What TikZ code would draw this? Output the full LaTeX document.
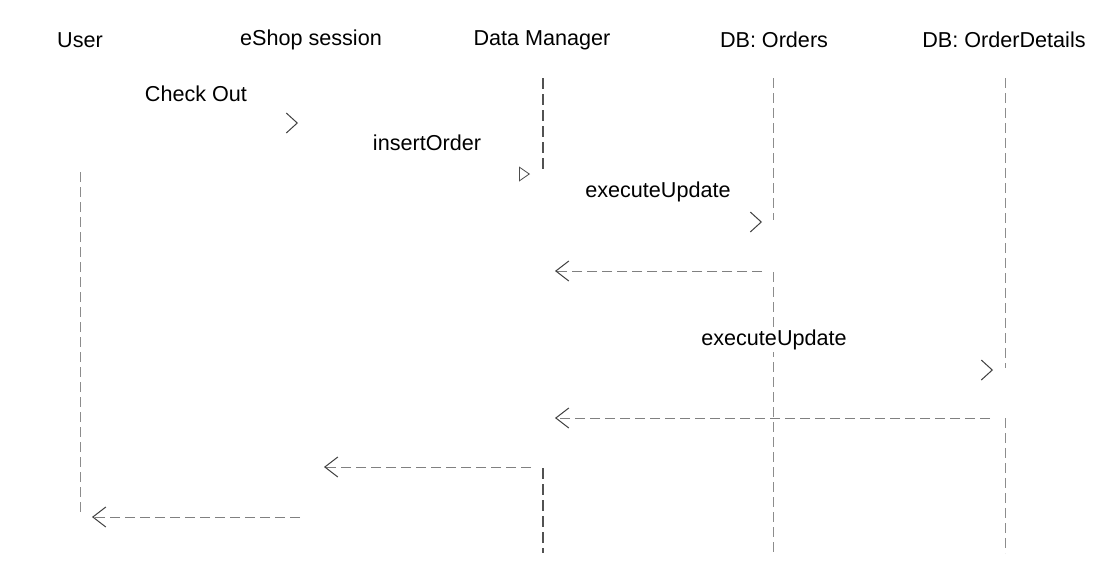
\documentclass[tikz,border=0pt]{standalone}
\usepackage{fontspec}
\setmainfont{Liberation Sans}
\usetikzlibrary{arrows.meta}
\begin{document}
\begin{tikzpicture}[x=1pt,y=-1pt,
  head/.style={font=\fontsize{21.6}{24}\selectfont, text=black, inner sep=0pt},
  lbl/.style={font=\fontsize{21.6}{24}\selectfont, text=black, inner sep=2pt},
  life/.style={draw=black!45, line width=0.8pt, dash pattern=on 10pt off 5pt},
  lifeact/.style={draw=black!68, line width=1.8pt, dash pattern=on 11pt off 5pt},
  callmsg/.style={draw=white, line width=0.8pt, -{Straight Barb[length=11pt,width=20pt,line width=1pt,color=black!75]}},
  callopen/.style={draw=white, line width=0.8pt, -{Triangle[open,length=11pt,width=15pt,line width=0.8pt,color=black!70]}},
  retmsg/.style={draw=black!50, line width=0.8pt, dash pattern=on 10pt off 5pt, -{Straight Barb[length=13pt,width=20pt,line width=1pt,color=black!75]}}
]
\useasboundingbox (0,0) rectangle (1110,566);
\fill[white] (0,0) rectangle (1110,566);

% headers
\node[head] (hUser) at (80,40) {User};
\node[head] (hShop) at (311,40) {eShop session};
\node[head] (hDM) at (542,40) {Data Manager};
\node[head] (hOrd) at (774,40) {DB: Orders};
\node[head] (hOD) at (1004,40) {DB: OrderDetails};

% lifeline points
\coordinate (uA) at (80,172);  \coordinate (uB) at (80,515);
\coordinate (dA) at (543,78);  \coordinate (dB) at (543,170);
\coordinate (dC) at (543,468); \coordinate (dD) at (543,553);
\coordinate (oA) at (773,78);  \coordinate (oB) at (773,220);
\coordinate (oC) at (773,272); \coordinate (oD) at (773,553);
\coordinate (tA) at (1005,78); \coordinate (tB) at (1005,368);
\coordinate (tC) at (1005,418); \coordinate (tD) at (1005,553);

% message end points
\coordinate (m1s) at (91,123);  \coordinate (m1e) at (298,123);
\coordinate (m2s) at (320,174); \coordinate (m2e) at (530,174);
\coordinate (m3s) at (555,222); \coordinate (m3e) at (762,222);
\coordinate (m4s) at (555,370); \coordinate (m4e) at (993,370);
\coordinate (r1s) at (762,271); \coordinate (r1e) at (555,271);
\coordinate (r2s) at (990,418); \coordinate (r2e) at (555,418);
\coordinate (r3s) at (531,467); \coordinate (r3e) at (324,467);
\coordinate (r4s) at (300,517); \coordinate (r4e) at (92,517);

% call messages (lines invisible, heads visible)
\draw[callmsg] (m1s) -- (m1e);
\draw[callopen] (m2s) -- (m2e);
\draw[callmsg] (m3s) -- (m3e);
\draw[callmsg] (m4s) -- (m4e);

% lifelines
\draw[life] (uA) -- (uB);
\draw[lifeact] (dA) -- (dB);
\draw[lifeact] (dC) -- (dD);
\draw[life] (oA) -- (oB);
\draw[life] (oC) -- (oD);
\draw[life] (tA) -- (tB);
\draw[life] (tC) -- (tD);

% returns
\draw[retmsg] (r1s) -- (r1e);
\draw[retmsg] (r2s) -- (r2e);
\draw[retmsg] (r3s) -- (r3e);
\draw[retmsg] (r4s) -- (r4e);

% labels
\node[lbl] (lCheck) at (196,94) {Check Out};
\node[lbl] (lIns) at (427,143) {insertOrder};
\node[lbl] (lEx1) at (658,192) {executeUpdate};
\node[lbl, fill=white] (lEx2) at (774,340) {executeUpdate};
\end{tikzpicture}
\end{document}
